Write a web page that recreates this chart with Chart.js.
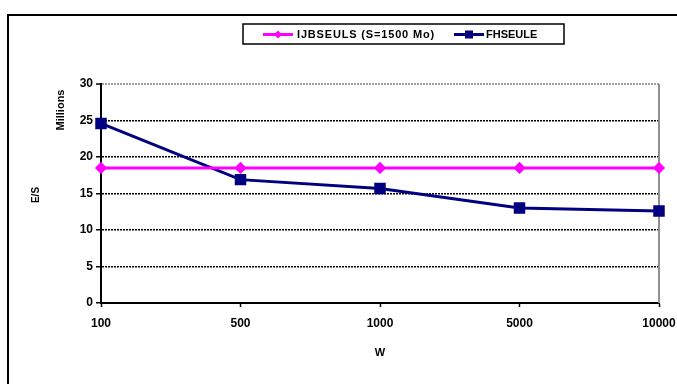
<!DOCTYPE html>
<html>
<head>
<meta charset="utf-8">
<script src="https://cdn.jsdelivr.net/npm/chart.js@4/dist/chart.umd.min.js"></script>
<style>
  html, body { margin: 0; padding: 0; background: #fff; }
  #wrap { width: 677px; height: 384px; position: relative; }
</style>
</head>
<body>
<div id="wrap"><canvas id="chart" width="677" height="384"></canvas></div>
<script>
const categories = ['100', '500', '1000', '5000', '10000'];
const ijbseulsValues = [18.5, 18.5, 18.5, 18.5, 18.5];
const fhseuleValues = [24.6, 16.9, 15.7, 13.0, 12.6];
const yTicks = [0, 5, 10, 15, 20, 25, 30];

const FONT = '"Liberation Sans", Arial, sans-serif';

// draw text stretched with letter spacing so it fills a given width
function spacedText(ctx, text, x, y, width) {
  const w = ctx.measureText(text).width;
  const sp = Math.max(0, (width - w) / text.length);
  ctx.letterSpacing = sp.toFixed(2) + 'px';
  ctx.fillText(text, x, y);
  ctx.letterSpacing = '0px';
}

// frame, extra titles, gray plot border and boxed legend
const decorations = {
  id: 'decorations',
  beforeDatasetsDraw(chart) {
    const { ctx, chartArea: a } = chart;
    ctx.save();
    ctx.strokeStyle = '#909090';
    ctx.lineWidth = 2;
    ctx.beginPath();
    ctx.moveTo(a.right, a.top);
    ctx.lineTo(a.right, a.bottom);
    ctx.stroke();
    ctx.restore();
  },
  afterDraw(chart) {
    const { ctx, chartArea: a } = chart;
    ctx.save();
    // outer frame (only left and top visible)
    ctx.strokeStyle = '#000';
    ctx.lineWidth = 2;
    ctx.beginPath();
    ctx.moveTo(8, 390);
    ctx.lineTo(8, 15);
    ctx.lineTo(690, 15);
    ctx.stroke();

    ctx.fillStyle = '#000';
    ctx.textAlign = 'center';
    ctx.textBaseline = 'middle';
    ctx.font = 'bold 10px ' + FONT;
    ctx.save();
    ctx.translate(36, 195);
    ctx.rotate(-Math.PI / 2);
    ctx.fillText('E/S', 0, 0);
    ctx.restore();
    ctx.font = 'bold 11px ' + FONT;
    ctx.save();
    ctx.translate(61, 110);
    ctx.rotate(-Math.PI / 2);
    ctx.fillText('Millions', 0, 0);
    ctx.restore();
    ctx.font = 'bold 11px ' + FONT;
    ctx.fillText('W', (a.left + a.right) / 2, 353);

    // legend box
    ctx.lineWidth = 1.5;
    ctx.strokeRect(243, 24, 321, 20);
    const ds = chart.data.datasets;
    const items = [
      { x0: 263, x1: 293, tx: 297, tw: 138, d: ds[0] },
      { x0: 454, x1: 484, tx: 486, tw: 50, d: ds[1] }
    ];
    items.forEach(it => {
      const y = 34.5;
      ctx.strokeStyle = it.d.borderColor;
      ctx.lineWidth = 3;
      ctx.beginPath();
      ctx.moveTo(it.x0, y);
      ctx.lineTo(it.x1, y);
      ctx.stroke();
      const cx = (it.x0 + it.x1) / 2;
      ctx.fillStyle = it.d.borderColor;
      if (it.d.pointStyle === 'rectRot') {
        ctx.beginPath();
        ctx.moveTo(cx, y - 4);
        ctx.lineTo(cx + 4, y);
        ctx.lineTo(cx, y + 4);
        ctx.lineTo(cx - 4, y);
        ctx.closePath();
        ctx.fill();
      } else {
        ctx.fillRect(cx - 4, y - 4, 8, 8);
      }
      ctx.fillStyle = '#000';
      ctx.font = 'bold 11px ' + FONT;
      ctx.textAlign = 'left';
      spacedText(ctx, it.d.label, it.tx, y + 0.5, it.tw);
    });
    ctx.restore();
  }
};

new Chart(document.getElementById('chart'), {
  type: 'line',
  data: {
    labels: categories,
    datasets: [
      {
        label: 'IJBSEULS (S=1500 Mo)',
        data: ijbseulsValues,
        borderColor: '#FF00FF',
        backgroundColor: '#FF00FF',
        borderWidth: 3,
        pointStyle: 'rectRot',
        pointRadius: 4,
        tension: 0
      },
      {
        label: 'FHSEULE',
        data: fhseuleValues,
        borderColor: '#000080',
        backgroundColor: '#000080',
        borderWidth: 3,
        pointStyle: 'rect',
        pointRadius: 6,
        tension: 0
      }
    ]
  },
  options: {
    responsive: false,
    animation: false,
    layout: { padding: { left: 0, top: 84, right: 18, bottom: 0 } },
    plugins: {
      legend: { display: false },
      tooltip: { enabled: false }
    },
    scales: {
      x: {
        type: 'category',
        offset: false,
        grid: {
          drawOnChartArea: false,
          drawTicks: true,
          tickLength: 4,
          tickColor: '#000',
          tickWidth: 1.5
        },
        border: { display: true, color: '#000', width: 2 },
        ticks: {
          color: '#000',
          font: { family: FONT, size: 12, weight: 'bold' },
          padding: 9,
          maxRotation: 0,
          autoSkip: false
        },
        afterFit(s) {
          s.height = 81;
          s.paddingLeft = 0;
          s.paddingRight = 0;
        }
      },
      y: {
        min: 0,
        max: 30,
        afterBuildTicks(s) { s.ticks = yTicks.map(v => ({ value: v })); },
        grid: {
          color: c => c.tick && c.tick.value === 30 ? '#a0a0a0' : (c.tick && c.tick.value === 0 ? 'rgba(0,0,0,0)' : '#000'),
          lineWidth: c => c.tick && c.tick.value === 30 ? 2 : 1.5,
          drawTicks: true,
          tickLength: 5,
          tickColor: '#000',
          tickWidth: 1.5,
          tickBorderDash: []
        },
        border: { display: true, color: '#000', width: 2, dash: [2, 1] },
        ticks: {
          color: '#000',
          font: { family: FONT, size: 12, weight: 'bold' },
          padding: 3
        },
        afterFit(s) {
          s.width = 101;
          s.paddingTop = 0;
          s.paddingBottom = 0;
        }
      }
    }
  },
  plugins: [decorations]
});
</script>
</body>
</html>
